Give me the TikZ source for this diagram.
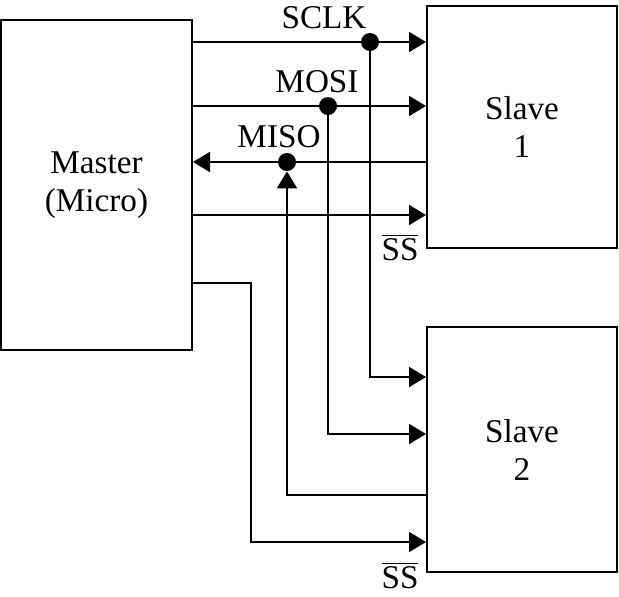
\documentclass[tikz,border=0pt]{standalone}
\usepackage{fontspec}
\setmainfont{Liberation Serif}
\usetikzlibrary{arrows.meta, positioning, calc}

\begin{document}
\begin{tikzpicture}[
    x=0.5pt, y=-0.5pt,
    chip/.style={rectangle, draw, line width=1pt, align=center, inner sep=0pt,
        font=\fontsize{16.6}{19}\selectfont},
    sig/.style={line width=1pt, -{Triangle[length=8.5pt, width=10pt]}},
    wire/.style={line width=1pt},
    tap/.style={circle, fill, inner sep=0pt, minimum size=9pt},
    lbl/.style={anchor=base, inner sep=0pt, font=\fontsize{16.6}{19}\selectfont}
]
\useasboundingbox (0,0) rectangle (619,596);
\node[chip, minimum width=95.5pt, minimum height=165pt] (master) at (96.5,185) {Master\\(Micro)};
\node[chip, minimum width=95pt, minimum height=121pt] (slave1) at (522,127) {Slave\\1};
\node[chip, minimum width=95pt, minimum height=122.5pt] (slave2) at (522,449.5) {Slave\\2};
% taps on the shared bus
\node[tap] (sclk) at (370,42) {};
\node[tap] (mosi) at (328,106) {};
\node[tap] (miso) at (287,162) {};
\coordinate (ss1) at (192,215);
\coordinate (ss2) at (251,542);
% signal names
\node[lbl] (sclklbl) at (324,28) {SCLK};
\node[lbl] (mosilbl) at (317,92) {MOSI};
\node[lbl] (misolbl) at (279,147) {MISO};
\node[lbl] (ss1lbl) at (400,260) {$\overline{\mbox{SS}}$};
\node[lbl] (ss2lbl) at (400,588) {$\overline{\mbox{SS}}$};
% slave 1
\draw[sig] (master.east |- sclk) -- (slave1.west |- sclk);
\draw[sig] (master.east |- mosi) -- (slave1.west |- mosi);
\draw[sig] (slave1.west |- miso) -- (master.east |- miso);
\draw[sig] (master.east |- ss1) -- (slave1.west |- ss1);
% slave 2
\draw[sig] (sclk) |- (slave2.west |- {0,377});
\draw[sig] (mosi) |- (slave2.west |- {0,434});
\draw[sig] (slave2.west |- {0,495}) -| (miso);
\draw[sig] (master.east |- {0,283}) -| (ss2) -- (slave2.west |- ss2);
\end{tikzpicture}
\end{document}
